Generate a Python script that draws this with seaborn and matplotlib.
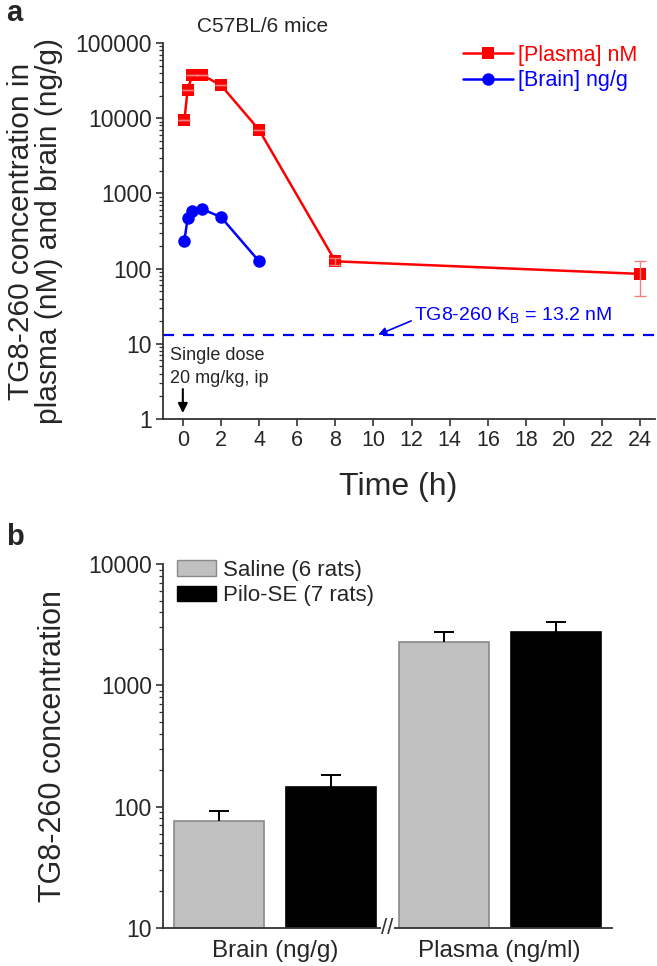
import numpy as np
import pandas as pd
import matplotlib
matplotlib.use("Agg")
import matplotlib.pyplot as plt
import matplotlib.ticker as mticker
import matplotlib.transforms as mtrans
import seaborn as sns

# panel a: PK time course (C57BL/6 mice)
time_plasma = [0.083, 0.25, 0.5, 1, 2, 4, 8, 24]
plasma_nM = [9400, 24000, 37500, 37500, 27500, 7000, 125, 85]
plasma_err = [0, 0, 0, 0, 0, 0, 15, 42]
time_brain = [0.083, 0.25, 0.5, 1, 2, 4]
brain_ngg = [235, 465, 580, 620, 485, 125]
kb_nM = 13.2

# panel b: rats, saline vs pilo-SE
tissues = ["Brain (ng/g)", "Plasma (ng/ml)"]
groups = ["Saline (6 rats)", "Pilo-SE (7 rats)"]
saline_mean = [76, 2270]
saline_err = [16, 490]
pilo_mean = [145, 2760]
pilo_err = [37, 540]

sns.set_style("ticks")
plt.rcParams["font.family"] = ["Liberation Sans", "DejaVu Sans"]
plt.rcParams["mathtext.fontset"] = "custom"
plt.rcParams["mathtext.rm"] = "Liberation Sans"
plt.rcParams["mathtext.it"] = "Liberation Sans:italic"

W, H = 657, 966
fig = plt.figure(figsize=(W / 100, H / 100), dpi=100)


def fx(x):
    return x / W


def fy(y):
    return 1 - y / H


axis_col = "#333333"
plain = mticker.FuncFormatter(lambda v, p: f"{v:g}")


def style_axes(ax):
    sns.despine(ax=ax)
    for s in ["left", "bottom"]:
        ax.spines[s].set_color(axis_col)
        ax.spines[s].set_linewidth(1.3)
    ax.tick_params(which="major", length=5, width=1.2, color=axis_col,
                   labelsize=16.5, pad=3)
    ax.tick_params(which="minor", length=3, width=0.9, color=axis_col)
    ax.yaxis.set_major_formatter(plain)
    ax.yaxis.set_minor_formatter(mticker.NullFormatter())


# ---------------- panel a ----------------
ax1 = fig.add_axes([fx(163), fy(419), (655 - 163) / W, (419 - 43) / H])
ax1.set_yscale("log")

sns.lineplot(x=time_plasma, y=plasma_nM, color="#ff0000", marker="s",
             markersize=8.5, markeredgewidth=0, linewidth=1.8,
             label="[Plasma] nM", ax=ax1)
sns.lineplot(x=time_brain, y=brain_ngg, color="#0000ff", marker="o",
             markersize=9, markeredgewidth=0, linewidth=1.8,
             label="[Brain] ng/g", ax=ax1)
ax1.errorbar(time_plasma, plasma_nM, yerr=plasma_err, fmt="none",
             ecolor="#f08080", elinewidth=1, capsize=4, capthick=1)
ax1.axhline(kb_nM, color="#0000ff", linewidth=1.6, linestyle=(0, (5, 4)))

ax1.set_xlim(-1.04, 24.77)
ax1.set_ylim(1, 100000)
ax1.set_xticks(range(0, 25, 2))
style_axes(ax1)
ax1.tick_params(axis="x", labelsize=15.5)

ax1.set_xlabel("Time (h)", fontsize=23)
ax1.xaxis.set_label_coords(0.478, -0.14)
ax1.set_ylabel("TG8-260 concentration in\nplasma (nM) and brain (ng/g)",
               fontsize=21.5, linespacing=1.0)
ax1.yaxis.set_label_coords(-0.203, 0.5)

leg = ax1.legend(loc="upper left", bbox_to_anchor=(fx(463), fy(45)),
                 bbox_transform=fig.transFigure, frameon=False, fontsize=15.5,
                 borderpad=0, borderaxespad=0, handlelength=2.3,
                 handletextpad=0.25, labelspacing=0.2)
for t, c in zip(leg.get_texts(), ["#ff0000", "#0000ff"]):
    t.set_color(c)

ax1.annotate(r"TG8-260 K$_\mathregular{B}$ = 13.2 nM", xy=(10.25, kb_nM),
             xytext=(12.15, 24.5), fontsize=14, color="#0000ff",
             va="center", ha="left",
             arrowprops=dict(arrowstyle="-|>", color="#0000ff", lw=1.2,
                             shrinkA=0, shrinkB=0, mutation_scale=12,
                             relpos=(0, 0.25)))
ax1.annotate("", xy=(0, 1.2), xytext=(0, 2.5),
             arrowprops=dict(arrowstyle="-|>", color="black", lw=1.5,
                             shrinkA=0, shrinkB=0, mutation_scale=14))
fig.text(fx(170), fy(360), "Single dose", fontsize=13, va="baseline")
fig.text(fx(170), fy(383), "20 mg/kg, ip", fontsize=13, va="baseline")
fig.text(fx(197), fy(32), "C57BL/6 mice", fontsize=15, va="baseline")
fig.text(fx(6), fy(21), "a", fontsize=21, fontweight="bold", va="baseline")

# ---------------- panel b ----------------
ax2 = fig.add_axes([fx(163), fy(928), (612 - 163) / W, (928 - 564) / H])
ax2.set_yscale("log")
df = pd.DataFrame({
    "tissue": tissues * 2,
    "group": [groups[0]] * 2 + [groups[1]] * 2,
    "value": saline_mean + pilo_mean,
})
sns.barplot(data=df, x="tissue", y="value", hue="group", order=tissues,
            hue_order=groups, palette=["#c0c0c0", "#000000"], width=1.0,
            gap=0.2, errorbar=None, legend=False, linewidth=1.2,
            saturation=1, ax=ax2)

bars = sorted(ax2.patches, key=lambda p: p.get_x())
errs = [saline_err[0], pilo_err[0], saline_err[1], pilo_err[1]]
edges = ["#8a8a8a", "#000000", "#8a8a8a", "#000000"]
for p, e, ec in zip(bars, errs, edges):
    p.set_edgecolor(ec)
    top = p.get_y() + p.get_height()
    xc = p.get_x() + p.get_width() / 2
    _, caps, _ = ax2.errorbar([xc], [top], yerr=[[0], [e]], fmt="none",
                              ecolor="black", elinewidth=1.4, capsize=7,
                              capthick=1.4, zorder=1)
    caps[0].set_visible(False)  # only the upper cap, like the original

ax2.set_xlim(-0.5, 1.5)
ax2.set_ylim(10, 10000)
style_axes(ax2)
ax2.tick_params(axis="x", length=0, labelsize=17.5, pad=9)
ax2.set_xlabel("")
ax2.set_ylabel("TG8-260 concentration", fontsize=22)
ax2.yaxis.set_label_coords(-0.212, 0.5)

# axis break mark between the two groups
brk = mtrans.blended_transform_factory(ax2.transData, ax2.transAxes)
ax2.text(0.5, 0, "//", transform=brk, ha="center", va="center", fontsize=16,
         color=axis_col, clip_on=False, zorder=5,
         bbox=dict(facecolor="white", edgecolor="none", pad=0.5))

handles = [plt.Rectangle((0, 0), 1, 1, facecolor="#c0c0c0", edgecolor="#8a8a8a"),
           plt.Rectangle((0, 0), 1, 1, facecolor="#000000", edgecolor="#000000")]
ax2.legend(handles, groups, loc="upper left", bbox_to_anchor=(fx(177), fy(560)),
           bbox_transform=fig.transFigure, frameon=False, fontsize=16,
           borderpad=0, borderaxespad=0, handlelength=1.75, handleheight=0.7,
           handletextpad=0.3, labelspacing=0.2)

fig.text(fx(6), fy(545), "b", fontsize=21, fontweight="bold", va="baseline")

fig.savefig("out.png", dpi=100)
